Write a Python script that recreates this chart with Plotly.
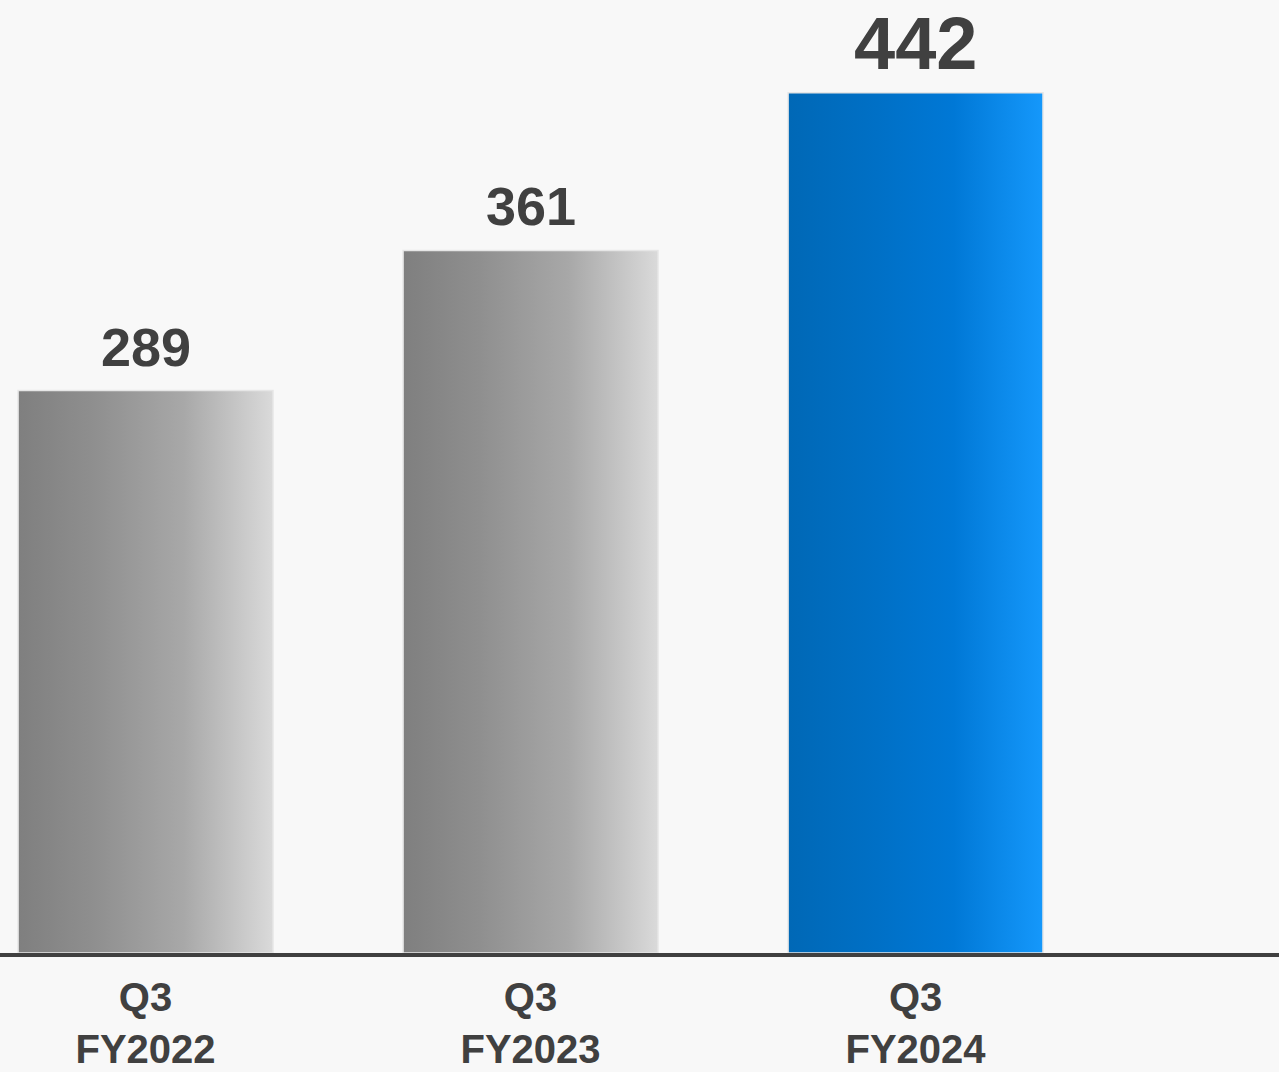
import plotly.graph_objects as go

categories = ["Q3<br>FY2022", "Q3<br>FY2023", "Q3<br>FY2024"]
values = [289, 361, 442]
label_sizes = [54, 54, 74]
label_shifts = [13, 13, 7]

gray_scale = [[0, "#7f7f7f"], [0.3, "#8f8f8f"], [0.65, "#a8a8a8"], [1, "#dadada"]]
blue_scale = [[0, "#0068b6"], [0.35, "#0070c6"], [0.65, "#0078d6"], [1, "#1598fb"]]
scales = [gray_scale, gray_scale, blue_scale]
base_colors = ["#a0a0a0", "#a0a0a0", "#0076d0"]

W = 0.662
xs = list(range(len(values)))

fig = go.Figure()
fig.add_trace(go.Bar(
    x=xs, y=values, width=W,
    marker=dict(color=base_colors, line=dict(width=0)),
    showlegend=False, hoverinfo="skip",
))
for i, v in enumerate(values):
    x0, x1 = xs[i] - W / 2, xs[i] + W / 2
    fig.add_trace(go.Scatter(
        x=[x0, x1, x1, x0, x0], y=[0, 0, v, v, 0],
        mode="lines", fill="toself",
        fillgradient=dict(type="horizontal", colorscale=scales[i]),
        line=dict(color="#e6e6e6", width=1.5),
        showlegend=False, hoverinfo="skip",
    ))
    fig.add_annotation(
        x=xs[i], y=v, text=f"<b>{v}</b>", showarrow=False,
        xanchor="center", yanchor="bottom", yshift=label_shifts[i], borderpad=0,
        font=dict(family="Liberation Sans, Arial", size=label_sizes[i], color="#404040"),
    )

fig.update_layout(
    width=1279, height=1072,
    margin=dict(l=0, r=0, t=0, b=119),
    paper_bgcolor="#f8f8f8", plot_bgcolor="#f8f8f8",
    font=dict(family="Liberation Sans, Arial", color="#404040"),
)
fig.update_xaxes(
    range=[-0.378, 2.944], tickvals=xs,
    ticktext=["<br>".join(f"<b>{p}</b>" for p in c.split("<br>")) for c in categories],
    tickfont=dict(size=40, color="#404040", family="Liberation Sans, Arial"),
    showline=True, linecolor="#404040", linewidth=4,
    ticks="outside", ticklen=6, tickcolor="rgba(0,0,0,0)",
    showgrid=False, zeroline=False, fixedrange=True, automargin=False,
)
fig.update_yaxes(range=[0, 489.7], visible=False, showgrid=False, zeroline=False)

fig.write_html("out.html")
